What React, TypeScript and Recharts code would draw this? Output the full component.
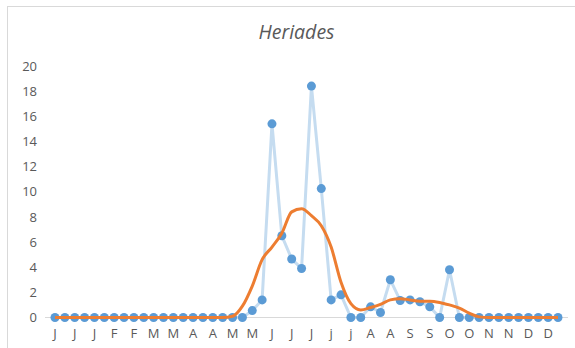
import { LineChart, Line, XAxis, YAxis } from "recharts";

// week labels (first letter of the month), 52 weeks
const weeks = [
  "J", "J", "J", "J", "J", "J",
  "F", "F", "F", "F",
  "M", "M", "M", "M",
  "A", "A", "A", "A",
  "M", "M", "M", "M",
  "J", "J", "J", "J", "J", "J",
  "j", "j", "j", "j",
  "A", "A", "A", "A",
  "S", "S", "S", "S",
  "O", "O", "O", "O",
  "N", "N", "N", "N",
  "D", "D", "D", "D",
];

// weekly counts
const counts = [
  0, 0, 0, 0, 0, 0, 0, 0, 0, 0,
  0, 0, 0, 0, 0, 0, 0, 0, 0, 0,
  0.55, 1.4, 15.4, 6.5, 4.65, 3.9, 18.4, 10.25, 1.4, 1.8,
  0, 0, 0.85, 0.4, 3.0, 1.35, 1.4, 1.25, 0.85, 0,
  3.8, 0, 0, 0, 0, 0, 0, 0, 0, 0,
  0, 0,
];

// smoothed trend
const trend = [
  0, 0, 0, 0, 0, 0, 0, 0, 0, 0,
  0, 0, 0, 0, 0, 0, 0, 0, 0.1, 0.9,
  2.5, 4.6, 5.6, 6.7, 8.4, 8.65, 8.1, 7.3, 5.6, 2.8,
  1.1, 0.6, 0.8, 1.05, 1.4, 1.5, 1.4, 1.3, 1.3, 1.2,
  1.0, 0.75, 0.35, 0.05, 0, 0, 0, 0, 0, 0,
  0, 0,
];

const yTicks = [0, 2, 4, 6, 8, 10, 12, 14, 16, 18, 20];

const data = weeks.map((w, i) => ({ week: w, count: counts[i], trend: trend[i] }));

const labelStyle = { fill: "#595959", fontSize: 13, fontFamily: "Open Sans" };

export default function App() {
  return (
    <div
      style={{
        position: "absolute",
        left: 7,
        top: 6,
        width: 567,
        height: 341,
        borderTop: "1px solid #d9d9d9",
        borderLeft: "1px solid #d9d9d9",
        background: "#fff",
        fontFamily: "Open Sans",
      }}
    >
      <div
        style={{
          position: "absolute",
          left: 0,
          top: 12,
          width: 577,
          textAlign: "center",
          fontStyle: "italic",
          fontSize: 19.5,
          color: "#595959",
          lineHeight: "26px",
        }}
      >
        Heriades
      </div>
      <LineChart
        width={567}
        height={341}
        data={data}
        margin={{ top: 59, right: 7, bottom: 0.5, left: 0 }}
      >
        <XAxis
          dataKey="week"
          interval={1}
          tickLine={false}
          axisLine={{ stroke: "#d9d9d9" }}
          tickMargin={5}
          height={30}
          padding={{ left: 10, right: 10 }}
          tick={labelStyle}
        />
        <YAxis
          domain={[0, 20]}
          ticks={yTicks}
          width={37}
          axisLine={false}
          tickLine={false}
          tick={labelStyle}
        />
        <Line
          dataKey="count"
          type="linear"
          stroke="#C5DCF0"
          strokeWidth={3}
          dot={{ r: 4.5, fill: "#5B9BD5", stroke: "none", strokeWidth: 0 }}
          activeDot={false}
          isAnimationActive={false}
        />
        <Line
          dataKey="trend"
          type="monotone"
          stroke="#ED7D31"
          strokeWidth={3}
          dot={false}
          activeDot={false}
          isAnimationActive={false}
          zIndex={1500}
        />
      </LineChart>
    </div>
  );
}
